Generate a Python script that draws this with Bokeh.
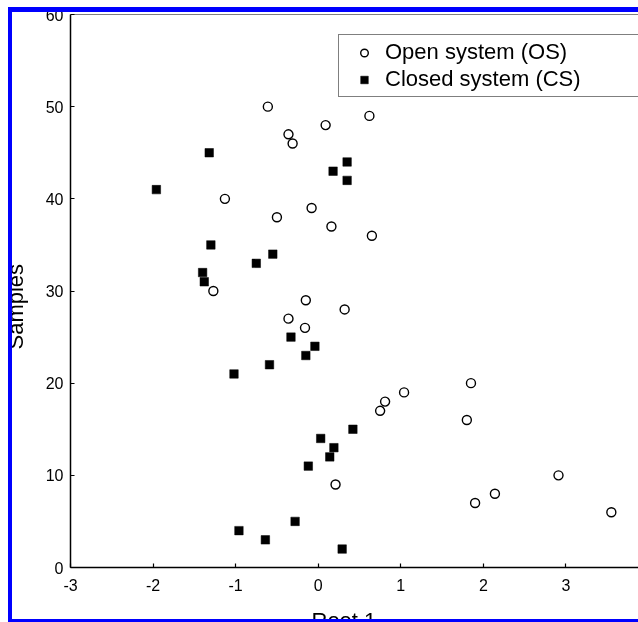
from bokeh.plotting import figure
from bokeh.models import Range1d, FixedTicker, Span, Title, InlineStyleSheet
from bokeh.embed import file_html
from bokeh.resources import INLINE

# Open system (OS) samples
os_x = [-0.61, -0.36, -0.31, 0.09, 0.62, -1.13, -0.50, -0.08, 0.16, 0.65,
        -1.27, -0.15, -0.36, -0.16, 0.32, 0.75, 0.81, 1.04, 1.80, 1.85,
        0.21, 1.90, 2.14, 2.91, 3.55]
os_y = [50, 47, 46, 48, 49, 40, 38, 39, 37, 36,
        30, 29, 27, 26, 28, 17, 18, 19, 16, 20,
        9, 7, 8, 10, 6]

# Closed system (CS) samples
cs_x = [-1.32, -1.96, 0.18, 0.35, 0.35, -1.30, -0.55, -0.75, -1.40, -1.38,
        -0.33, -0.04, -0.15, -0.59, -1.02, 0.42, 0.03, 0.19, 0.14, -0.12,
        -0.28, -0.96, -0.64, 0.29]
cs_y = [45, 41, 43, 44, 42, 35, 34, 33, 32, 31,
        25, 24, 23, 22, 21, 15, 14, 13, 12, 11,
        5, 4, 3, 2]

x_ticks = [-3, -2, -1, 0, 1, 2, 3]
x_tick_labels = ["-3", "-2", "-1", "0", "1", "2", "3"]
y_ticks = [0, 10, 20, 30, 40, 50, 60]

FONT = "Liberation Sans"

# canvas starts 30px left of the page edge; the visible part is the cropped chart
p = figure(width=678, height=657, output_backend="svg", toolbar_location=None,
           x_range=Range1d(-3, 4), y_range=Range1d(0, 60),
           min_border_left=100, min_border_right=0, min_border_top=14,
           min_border_bottom=90)

# page frame: white margin plus a blue border drawn over the canvas edges
css = """
:host::before {
  content: ""; position: fixed; left: 0; top: 0; width: 660px; height: 680px;
  box-sizing: border-box; border-left: 8px solid #ffffff; border-top: 7px solid #ffffff;
  z-index: 1000; pointer-events: none;
}
:host::after {
  content: ""; position: fixed; left: 8px; top: 7px; width: 650px; height: 615px;
  box-sizing: border-box; border-left: 4px solid #0000ff; border-top: 5px solid #0000ff;
  border-bottom: 3px solid #0000ff; z-index: 1001; pointer-events: none;
}
"""
p.stylesheets = [InlineStyleSheet(css=css)]
p.styles = {"position": "fixed", "left": "-30px", "top": "0px"}

p.outline_line_color = None
p.grid.visible = False
p.background_fill_color = "white"
p.border_fill_color = "white"

for ax in (p.xaxis[0], p.yaxis[0]):
    ax.axis_line_color = "black"
    ax.axis_line_width = 1.5
    ax.major_tick_in = 4
    ax.major_tick_out = 0
    ax.major_tick_line_color = "black"
    ax.major_tick_line_width = 1.2
    ax.minor_tick_line_color = None
    ax.major_label_text_font = FONT
    ax.major_label_text_font_size = "16px"
    ax.major_label_text_color = "black"

p.xaxis[0].ticker = FixedTicker(ticks=x_ticks)
p.xaxis[0].major_label_overrides = dict(zip(x_ticks, x_tick_labels))
p.yaxis[0].ticker = FixedTicker(ticks=y_ticks)
p.xaxis[0].major_label_standoff = 11
p.yaxis[0].major_label_standoff = 7

p.add_layout(Title(text="Samples", align="left", offset=218, vertical_align="bottom",
                   standoff=29, text_font=FONT, text_font_size="22px",
                   text_font_style="normal", text_color="black"), "left")
p.add_layout(Title(text="Root 1", align="left", offset=241, vertical_align="top",
                   standoff=28, text_font=FONT, text_font_size="22px",
                   text_font_style="normal", text_color="black"), "below")

p.add_layout(Span(location=60, dimension="width", line_color="black", line_width=1))

p.scatter(os_x, os_y, marker="circle", size=9, fill_color="white",
          line_color="black", line_width=1.4, legend_label="Open system (OS)")
p.scatter(cs_x, cs_y, marker="square", size=8.5, fill_color="black",
          line_color="black", line_width=0.5, legend_label="Closed system (CS)")

lg = p.legend[0]
lg.location = (268, 470)
lg.label_text_font = FONT
lg.label_text_font_size = "22px"
lg.label_text_color = "black"
lg.label_height = 22
lg.glyph_height = 19
lg.glyph_width = 42
lg.label_standoff = 0
lg.label_width = 260
lg.spacing = 1
lg.padding = 4
lg.margin = 0
lg.border_line_color = "black"
lg.border_line_width = 1
lg.background_fill_color = "white"
lg.background_fill_alpha = 1

open("out.html", "w").write(file_html(p, INLINE))
